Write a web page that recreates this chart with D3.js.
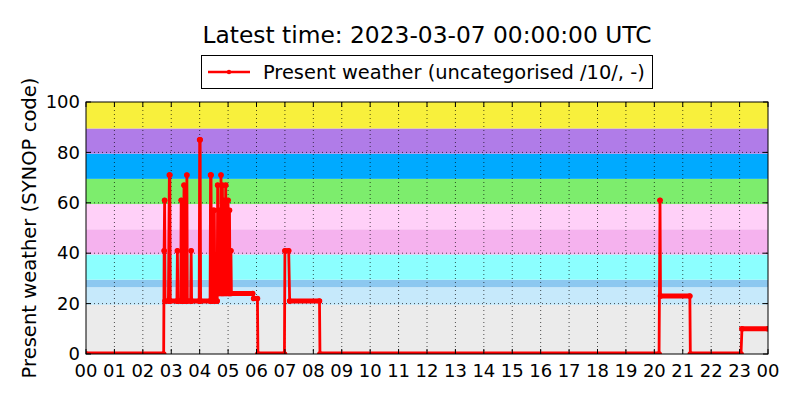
<!DOCTYPE html>
<html>
<head>
<meta charset="utf-8">
<script src="https://cdn.jsdelivr.net/npm/d3@7"></script>
<style>
  html, body { margin: 0; padding: 0; background: #fff; }
  text { font-family: "DejaVu Sans", sans-serif; fill: #000; }
</style>
</head>
<body>
<svg id="chart" width="800" height="400"></svg>
<script>
// ---- Data (minutes after 00:00 UTC, SYNOP present weather code) ----
const titleText = "Latest time: 2023-03-07 00:00:00 UTC";
const legendLabel = "Present weather (uncategorised /10/, -)";
const yLabel = "Present weather (SYNOP code)";
const hourTickLabels = ["00","01","02","03","04","05","06","07","08","09","10","11","12",
  "13","14","15","16","17","18","19","20","21","22","23","00"];
const yTickValues = [0, 20, 40, 60, 80, 100];

// background code bands
const bandLow  = [0,    19.5, 26.5, 29.5, 39.5, 49.5, 59.5, 69.5, 79.5, 89.5];
const bandHigh = [19.5, 26.5, 29.5, 39.5, 49.5, 59.5, 69.5, 79.5, 89.5, 100];
const bandColor = ["#ebebeb","#c6e9fb","#8cc8f0","#8cffff","#f5b2ee","#ffd0f8",
  "#7ded6d","#00aaff","#b07ce8","#f8f03c"];

// observation runs: first minute, last minute, code
const runStart = [0,165,166,167,176,178,193,194,201,202,207,208,213,214,222,223,240,242,
  263,265,268,272,278,279,281,282,285,286,288,289,291,292,295,296,300,301,303,304,306,307,
  354,363,420,430,494,1212,1213,1276,1385];
const runEnd   = [164,165,166,174,177,192,193,200,201,205,207,212,213,221,222,239,241,262,
  264,267,271,277,278,280,281,284,285,287,288,290,291,294,295,298,300,302,303,305,306,352,
  362,419,428,493,1210,1212,1275,1383,1440];
const runCode  = [0,41,61,21,71,21,41,21,61,21,67,21,71,21,41,21,85,21,
  71,21,57,21,67,24,57,24,71,24,67,24,61,24,67,24,61,24,57,24,41,24,
  22,0,41,21,0,61,23,0,10];

// ---- Layout ----
const svg = d3.select("#chart");
const L = 86, R = 768, T = 102, B = 354;
const x = d3.scaleLinear().domain([0, 1440]).range([L, R]);
const y = d3.scaleLinear().domain([0, 100]).range([B, T]);

// bands
svg.append("g").selectAll("rect").data(bandLow).join("rect")
  .attr("x", L).attr("width", R - L)
  .attr("y", (d, i) => y(bandHigh[i]))
  .attr("height", (d, i) => y(bandLow[i]) - y(bandHigh[i]))
  .attr("fill", (d, i) => bandColor[i]);

// grid
const grid = svg.append("g").attr("stroke", "#000").attr("stroke-width", 0.8)
  .attr("stroke-dasharray", "1,3").attr("opacity", 0.85);
hourTickLabels.forEach((lab, i) => {
  if (i === 0 || i === hourTickLabels.length - 1) return;
  grid.append("line").attr("x1", x(i * 60)).attr("x2", x(i * 60))
    .attr("y1", T).attr("y2", B);
});
yTickValues.forEach(v => {
  if (v === 0 || v === 100) return;
  grid.append("line").attr("x1", L).attr("x2", R).attr("y1", y(v)).attr("y2", y(v));
});

// data
svg.append("clipPath").attr("id", "clip").append("rect")
  .attr("x", L).attr("y", T).attr("width", R - L).attr("height", B - T);
const dataG = svg.append("g").attr("clip-path", "url(#clip)");
const pts = [];
runStart.forEach((s, i) => {
  pts.push([s, runCode[i]]);
  if (runEnd[i] !== s) pts.push([runEnd[i], runCode[i]]);
});
const line = d3.line().x(d => x(d[0])).y(d => y(d[1]));
dataG.append("path").attr("d", line(pts)).attr("fill", "none")
  .attr("stroke", "#ff0000").attr("stroke-width", 2.8).attr("stroke-linejoin", "round");
// dense per-minute markers form a thick band along each run
dataG.selectAll("line.run").data(runStart).join("line").attr("class", "run")
  .attr("x1", (d, i) => x(runStart[i])).attr("x2", (d, i) => x(runEnd[i]))
  .attr("y1", (d, i) => y(runCode[i])).attr("y2", (d, i) => y(runCode[i]))
  .attr("stroke", "#ff0000").attr("stroke-width", 5).attr("stroke-linecap", "round");
dataG.selectAll("circle").data(pts).join("circle")
  .attr("cx", d => x(d[0])).attr("cy", d => y(d[1])).attr("r", 2.8)
  .attr("fill", "#ff0000");

// frame
svg.append("rect").attr("x", L).attr("y", T).attr("width", R - L).attr("height", B - T)
  .attr("fill", "none").attr("stroke", "#000").attr("stroke-width", 1);

// ticks (inward, all sides)
const tk = svg.append("g").attr("stroke", "#000").attr("stroke-width", 1);
hourTickLabels.forEach((lab, i) => {
  const xx = x(i * 60);
  tk.append("line").attr("x1", xx).attr("x2", xx).attr("y1", B).attr("y2", B - 5);
  tk.append("line").attr("x1", xx).attr("x2", xx).attr("y1", T).attr("y2", T + 5);
  svg.append("text").attr("x", xx).attr("y", 376.5).attr("text-anchor", "middle")
    .attr("font-size", 18).text(lab);
});
yTickValues.forEach(v => {
  tk.append("line").attr("x1", L).attr("x2", L + 5).attr("y1", y(v)).attr("y2", y(v));
  tk.append("line").attr("x1", R).attr("x2", R - 5).attr("y1", y(v)).attr("y2", y(v));
  svg.append("text").attr("x", 80).attr("y", y(v)).attr("dy", "0.34em")
    .attr("text-anchor", "end").attr("font-size", 18).text(v);
});

function fit(sel, target) {
  const w = sel.node().getComputedTextLength();
  const fs = parseFloat(sel.attr("font-size"));
  sel.attr("font-size", fs * target / w);
}

// y label
const yl = svg.append("text").attr("transform", `translate(36,${(T + B) / 2}) rotate(-90)`)
  .attr("text-anchor", "middle").attr("font-size", 18).text(yLabel);
fit(yl, 301);

// title
const tt = svg.append("text").attr("x", (L + R) / 2).attr("y", 43)
  .attr("text-anchor", "middle").attr("font-size", 21).text(titleText);
fit(tt, 449);

// legend
svg.append("rect").attr("x", 201.5).attr("y", 55.5).attr("width", 451).attr("height", 33)
  .attr("fill", "#fff").attr("stroke", "#000").attr("stroke-width", 1);
svg.append("line").attr("x1", 208).attr("x2", 250).attr("y1", 72).attr("y2", 72)
  .attr("stroke", "#ff0000").attr("stroke-width", 2.6);
svg.append("circle").attr("cx", 229).attr("cy", 72).attr("r", 2.2).attr("fill", "#ff0000");
const lt = svg.append("text").attr("x", 263).attr("y", 78.5).attr("font-size", 18)
  .text(legendLabel);
fit(lt, 382);
</script>
</body>
</html>
